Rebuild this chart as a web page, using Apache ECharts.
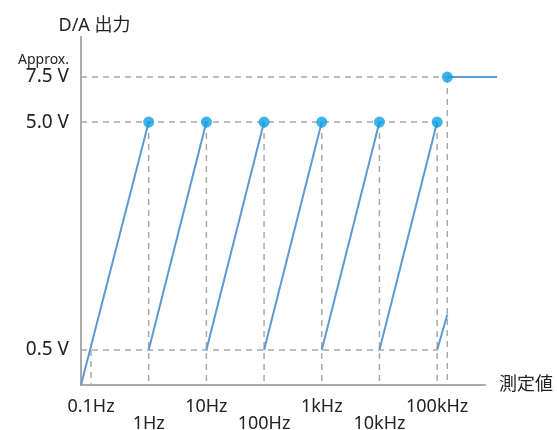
<!DOCTYPE html>
<html>
<head>
<meta charset="utf-8">
<script src="https://cdn.jsdelivr.net/npm/echarts@6/dist/echarts.min.js"></script>
<style>html,body{margin:0;padding:0;background:#fff;}#c{width:557px;height:430px;}</style>
</head>
<body>
<div id="c"></div>
<script>
// ---- data ----
const decadeHz = [0.1, 1, 10, 100, 1000, 10000, 100000];
const decadeLabels = ['0.1Hz', '1Hz', '10Hz', '100Hz', '1kHz', '10kHz', '100kHz'];
const yTickVolts = [0.5, 5.0, 7.5];
const yTickLabels = ['0.5 V', '5.0 V', '7.5 V'];
const rampFromHz = [0.0671, 1, 10, 100, 1000, 10000, 100000];
const rampFromV  = [0, 0.5, 0.5, 0.5, 0.5, 0.5, 0.5];
const rampToHz   = [1, 10, 100, 1000, 10000, 100000, 150000];
const rampToV    = [5.0, 5.0, 5.0, 5.0, 5.0, 5.0, 1.2];
const peakHz = [1, 10, 100, 1000, 10000, 100000];
const peakV  = [5.0, 5.0, 5.0, 5.0, 5.0, 5.0];
const overHz = [150000, 1090000];
const overV  = [7.5, 7.5];
const hGuideV = [7.5, 5.0, 0.5];
const hGuideEndHz = [150000, 100000, 100000];
const vGuideHz = [0.1, 1, 10, 100, 1000, 10000, 100000, 150000];
const vGuideTopV = [0.5, 5.0, 5.0, 5.0, 5.0, 5.0, 5.0, 7.5];
const xMinHz = 0.0671, xMaxHz = 1090000, xAxisEndHz = 674000;

// schematic (broken) voltage scale: anchors for the drawn axis
const voltAnchor = [0, 0.5, 5.0, 7.5];
const levelAnchor = [0, 0.69, 5.19, 6.08];
const levelMax = 6.87;
function lv(v) {
  for (let i = 1; i < voltAnchor.length; i++) {
    if (v <= voltAnchor[i] || i === voltAnchor.length - 1) {
      const t = (v - voltAnchor[i-1]) / (voltAnchor[i] - voltAnchor[i-1]);
      return levelAnchor[i-1] + t * (levelAnchor[i] - levelAnchor[i-1]);
    }
  }
}
const lx = f => Math.log10(f);

const FONT = '"Noto Sans", "Noto Sans CJK JP", sans-serif';
const TXT = '#222';
const guideStyle = { color: '#a8a8a8', width: 1.5, type: [6, 5] };
const series = [];
hGuideV.forEach((v, i) => series.push({
  type: 'line', data: [[lx(xMinHz), lv(v)], [lx(hGuideEndHz[i]), lv(v)]],
  symbol: 'none', lineStyle: guideStyle, z: 1, silent: true
}));
vGuideHz.forEach((f, i) => series.push({
  type: 'line', data: [[lx(f), lv(vGuideTopV[i])], [lx(f), 0]],
  symbol: 'none', lineStyle: guideStyle, z: 1, silent: true
}));
rampFromHz.forEach((f, i) => series.push({
  type: 'line', data: [[lx(f), lv(rampFromV[i])], [lx(rampToHz[i]), lv(rampToV[i])]],
  symbol: 'none', lineStyle: { color: '#5b9bd5', width: 2 }, z: 3, silent: true
}));
series.push({
  type: 'line', data: overHz.map((f, i) => [lx(f), lv(overV[i])]),
  symbol: 'none', lineStyle: { color: '#5b9bd5', width: 2 }, z: 3, silent: true
});
series.push({
  type: 'scatter', symbolSize: 11, itemStyle: { color: '#0aa0e6' }, z: 5, silent: true,
  data: peakHz.map((f, i) => [lx(f), lv(peakV[i])]).concat([[lx(overHz[0]), lv(overV[0])]])
});

const chart = echarts.init(document.getElementById('c'), null, { renderer: 'canvas' });
chart.setOption({
  animation: false,
  backgroundColor: '#fff',
  textStyle: { fontFamily: FONT },
  grid: [
    { left: 81, right: 60, top: 37, bottom: 45, containLabel: false, outerBoundsMode: 'none' },
    { left: 81, right: 72, top: 37, bottom: 45, containLabel: false, outerBoundsMode: 'none' }
  ],
  xAxis: [{
    gridIndex: 0,
    type: 'value', min: lx(xMinHz), max: lx(xMaxHz),
    axisLine: { show: false },
    axisTick: { show: false },
    splitLine: { show: false },
    axisLabel: {
      customValues: decadeHz.map(lx),
      fontSize: 18, color: TXT, fontFamily: FONT, margin: 13, lineHeight: 17,
      formatter: (val) => {
        const i = decadeHz.findIndex(f => Math.abs(lx(f) - val) < 1e-6);
        if (i < 0) return '';
        return (i % 2 === 1 ? '\n' : '') + decadeLabels[i];
      }
    }
  }, {
    gridIndex: 1,
    type: 'value', min: lx(xMinHz), max: lx(xAxisEndHz),
    name: '測定値', nameLocation: 'end', nameGap: 14,
    nameTextStyle: { fontSize: 18, color: TXT, fontFamily: FONT, padding: [0, 0, 10, 0] },
    axisLine: { show: true, onZero: false, lineStyle: { color: '#aaaaaa', width: 2 } },
    axisTick: { show: false },
    splitLine: { show: false },
    axisLabel: { show: false }
  }],
  yAxis: [{
    gridIndex: 0,
    type: 'value', min: 0, max: levelMax,
    name: 'D/A 出力', nameLocation: 'end', nameGap: 2,
    nameTextStyle: { fontSize: 18, color: TXT, fontFamily: FONT, align: 'center', padding: [0, 0, 0, 27] },
    axisLine: { show: true, onZero: false, lineStyle: { color: '#aaaaaa', width: 2 } },
    axisTick: { show: false },
    splitLine: { show: false },
    axisLabel: {
      customValues: yTickVolts.map(lv),
      margin: 12, color: TXT, fontFamily: FONT,
      formatter: (val) => {
        const i = yTickVolts.findIndex(v => Math.abs(lv(v) - val) < 1e-6);
        if (i < 0) return '';
        if (yTickVolts[i] === 7.5) return '{s|Approx.}\n{v|' + yTickLabels[i] + '}\n{s| }';
        return '{v|' + yTickLabels[i] + '}';
      },
      rich: {
        s: { fontSize: 14, lineHeight: 15, color: TXT, fontFamily: FONT, align: 'right' },
        v: { fontSize: 19, lineHeight: 19, color: TXT, fontFamily: FONT, align: 'right' }
      }
    }
  }, {
    gridIndex: 1, type: 'value', min: 0, max: 1, show: false
  }],
  series: series
});
</script>
</body>
</html>
